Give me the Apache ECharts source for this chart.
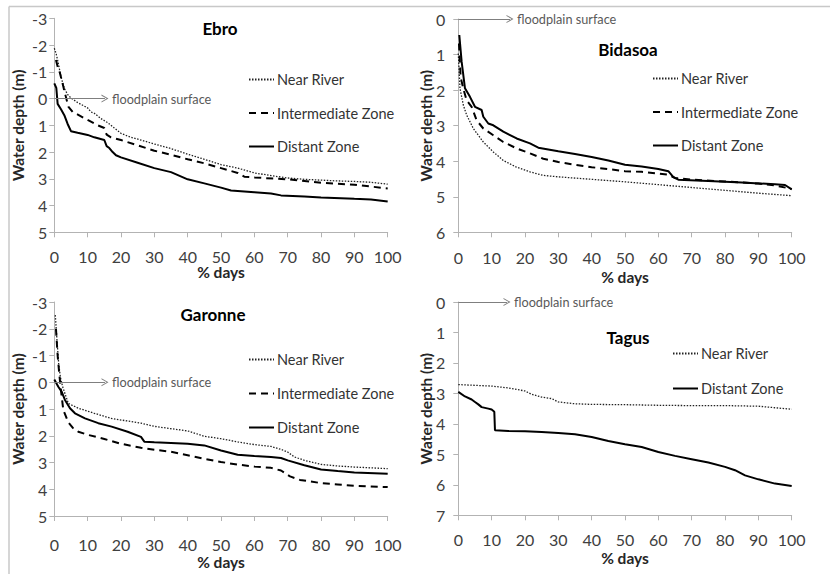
<!DOCTYPE html>
<html>
<head>
<meta charset="utf-8">
<script src="https://cdn.jsdelivr.net/npm/echarts@6/dist/echarts.min.js"></script>
<style>html,body{margin:0;padding:0;background:#fff;}#c{width:830px;height:574px;}</style>
</head>
<body>
<div id="c"></div>
<script>
// ---- data: [% days, water depth (m)] ----
const ebroNear = [[0,-1.88],[0.5,-1.7],[1,-1.44],[2,-0.82],[3,-0.38],[4,-0.15],[5,-0.02],[7,0.15],[10,0.35],[11,0.5],[12,0.55],[14,0.75],[16,0.9],[18,1.1],[20,1.3],[23,1.45],[26,1.55],[30,1.7],[35,1.87],[40,2.08],[45,2.27],[50,2.47],[55,2.6],[60,2.78],[65,2.88],[70,2.97],[75,3.02],[80,3.05],[85,3.08],[90,3.1],[95,3.13],[100,3.2]];
const ebroInter = [[0.5,-1.44],[1,-1.2],[1.7,-0.95],[2.7,-0.45],[3.4,-0.1],[4.2,0.3],[5.5,0.5],[7.2,0.61],[10,0.8],[13,1.0],[15,1.1],[15.7,1.35],[17,1.45],[20,1.55],[25,1.75],[30,1.95],[35,2.1],[40,2.27],[45,2.42],[50,2.6],[55,2.78],[57,2.92],[60,2.95],[70,3.02],[80,3.15],[90,3.22],[100,3.36]];
const ebroDist = [[0,-0.57],[0.6,-0.4],[1,0.2],[2,0.4],[3,0.62],[4,0.95],[5,1.22],[7,1.28],[10,1.36],[12,1.45],[15,1.55],[15.7,1.78],[16.5,1.85],[17.5,2.0],[18.5,2.12],[20,2.2],[25,2.4],[30,2.6],[35,2.75],[40,3.02],[45,3.17],[50,3.33],[53,3.44],[60,3.5],[65,3.55],[68,3.62],[75,3.66],[80,3.7],[90,3.75],[95,3.77],[100,3.85]];

const bidaNear = [[0,0.97],[0.5,1.95],[1.5,2.42],[2.5,2.7],[4.5,3.08],[7.5,3.46],[10.5,3.74],[13.5,3.98],[17.5,4.17],[21.5,4.3],[25.5,4.4],[30,4.44],[40,4.51],[50,4.58],[60,4.66],[70,4.74],[80,4.82],[90,4.9],[100,4.97]];
const bidaInter = [[0.2,0.69],[0.7,1.63],[1.5,1.96],[2.5,2.29],[4,2.47],[5.5,2.85],[7.5,3.08],[10.5,3.27],[13.5,3.46],[17.5,3.64],[21.5,3.78],[25.5,3.93],[30,4.02],[35,4.1],[40,4.17],[45,4.22],[50,4.28],[55,4.3],[60,4.35],[63,4.38],[65,4.47],[70,4.52],[80,4.57],[90,4.63],[95,4.68],[100,4.78]];
const bidaDist = [[0.3,0.45],[1,1.2],[2,1.95],[3.5,2.19],[5,2.47],[7,2.56],[7.5,2.75],[9,2.94],[10.5,2.99],[13.5,3.17],[17.5,3.36],[21.5,3.5],[24,3.62],[30,3.72],[35,3.8],[40,3.88],[45,3.98],[50,4.1],[55,4.15],[60,4.22],[63,4.28],[64.5,4.45],[66,4.52],[75,4.56],[85,4.6],[95,4.65],[98,4.67],[100,4.79]];

const garoNear = [[0.3,-2.51],[0.8,-1.58],[1.3,-0.71],[1.8,-0.21],[2.5,0.17],[4.2,0.79],[7.2,0.97],[12,1.16],[17,1.35],[26,1.53],[30,1.65],[40,1.82],[45,2.02],[50,2.11],[55,2.23],[60,2.33],[65,2.4],[68,2.51],[70,2.61],[72,2.79],[75,2.92],[80,3.07],[85,3.13],[90,3.17],[100,3.23]];
const garoInter = [[0.5,-2.0],[1,-1.0],[1.5,-0.3],[2,0.3],[2.7,1.04],[4.2,1.5],[5.5,1.7],[7.2,1.85],[10.2,1.97],[15,2.12],[20,2.3],[26,2.45],[30,2.52],[35,2.6],[40,2.73],[45,2.86],[50,2.98],[55,3.08],[60,3.15],[65,3.2],[68,3.3],[70.7,3.52],[73.7,3.65],[80,3.77],[85,3.82],[90,3.87],[100,3.92]];
const garoDist = [[0,-0.1],[1.2,0.17],[2.2,0.35],[3.2,0.66],[4.7,0.97],[6.2,1.16],[9.2,1.35],[13.2,1.53],[17.2,1.66],[22,1.85],[26,2.04],[27,2.22],[30,2.24],[40,2.3],[45,2.36],[50,2.55],[55,2.71],[60,2.76],[65,2.79],[68,2.83],[70,2.92],[75,3.1],[80,3.26],[85,3.32],[90,3.37],[100,3.42]];

const tagusNear = [[0,2.71],[10,2.76],[15,2.82],[20,2.92],[22,3.03],[25,3.12],[28,3.17],[30,3.28],[35,3.34],[40,3.36],[50,3.37],[60,3.39],[70,3.4],[80,3.4],[90,3.42],[95,3.47],[100,3.52]];
const tagusDist = [[0,2.95],[2,3.1],[4,3.2],[5,3.28],[6,3.36],[7,3.45],[9,3.5],[10,3.53],[10.8,3.6],[11,4.21],[15,4.23],[20,4.24],[25,4.27],[30,4.3],[35,4.34],[40,4.43],[45,4.56],[50,4.67],[55,4.76],[60,4.92],[65,5.05],[70,5.16],[75,5.27],[80,5.41],[83,5.52],[86,5.69],[90,5.82],[95,5.96],[100,6.04]];

const panelTitles = ['Ebro','Bidasoa','Garonne','Tagus'];
const yRanges = [[-3,5],[0,6],[-3,5],[0,7]];
const xTicks = [0,10,20,30,40,50,60,70,80,90,100];
const seriesNames = ['Near River','Intermediate Zone','Distant Zone'];
const floodLabel = 'floodplain surface';
const floodArrowEnd = [15.2,15.5,15.2,14.6];

const FONT = 'Lato, "Open Sans", sans-serif';
const grids = [
  {left:54.3, top:18.3, width:333.4, height:214},
  {left:458.3, top:19, width:333.4, height:213.3},
  {left:54.3, top:302, width:333.4, height:214},
  {left:458.3, top:302, width:333.4, height:213.3}
];
const yNameGap = [28,24,28,24];
const yLabelMargin = [7,13,7,13];
const xLabelMargin = [18.7,19.7,23,19];
const xNameGap = [33.5,38.7,40,36.5];
const axisCol = '#b3b3b3';

const xAxes = grids.map((g,i)=>({
  type:'value', gridIndex:i, min:0, max:100, interval:10,
  name:'% days', nameLocation:'middle', nameGap:xNameGap[i], nameMoveOverlap:false,
  nameTextStyle:{fontFamily:FONT, fontWeight:'bold', fontSize:15.5, lineHeight:12, color:'#262626'},
  axisLine:{show:true, onZero:false, lineStyle:{color:axisCol}},
  axisTick:{show:true, length:5, lineStyle:{color:axisCol}},
  axisLabel:{margin:xLabelMargin[i], fontFamily:FONT, fontSize:16, lineHeight:11, color:'#404040'},
  splitLine:{show:false}
}));
const yAxes = grids.map((g,i)=>({
  type:'value', gridIndex:i, inverse:true, min:yRanges[i][0], max:yRanges[i][1], interval:1,
  name:'Water depth (m)', nameLocation:'middle', nameGap:yNameGap[i], nameMoveOverlap:false,
  nameTextStyle:{fontFamily:FONT, fontWeight:'bold', fontSize:15.5, color:'#262626'},
  axisLine:{show:true, onZero:false, lineStyle:{color:axisCol}},
  axisTick:{show:true, length:5, lineStyle:{color:axisCol}},
  axisLabel:{margin:yLabelMargin[i], fontFamily:FONT, fontSize:16, color:'#404040'},
  splitLine:{show:false}
}));

const styles = {
  'Near River': {type:[1.5,1.5], width:1.3, color:'#222'},
  'Intermediate Zone': {type:[7,5], width:2, color:'#000'},
  'Distant Zone': {type:'solid', width:2, color:'#000'}
};
const chevron = 'path://M0,10 L5,0 L10,10 L8.6,10 L5,2.6 L1.4,10 Z';

function mk(name, data, idx, withMark){
  const s = {
    type:'line', name:name, data:data, xAxisIndex:idx, yAxisIndex:idx,
    symbol:'none', showSymbol:false, smooth:false, z:3,
    lineStyle:Object.assign({}, styles[name]), itemStyle:{color:styles[name].color},
    emphasis:{disabled:true}
  };
  if(withMark){
    s.markLine = {
      silent:true, symbol:['none', chevron], symbolSize:[8,7], animation:false,
      lineStyle:{color:'#7f7f7f', width:1, type:'solid'},
      itemStyle:{color:'#7f7f7f'},
      label:{show:true, position:'end', distance:7, formatter:floodLabel, fontFamily:FONT, fontSize:12.7, color:'#595959'},
      emphasis:{disabled:true},
      data:[[{coord:[0,0]},{coord:[floodArrowEnd[idx],0]}]]
    };
  }
  return s;
}

const series = [
  mk('Near River', ebroNear, 0, true), mk('Intermediate Zone', ebroInter, 0), mk('Distant Zone', ebroDist, 0),
  mk('Near River', bidaNear, 1, true), mk('Intermediate Zone', bidaInter, 1), mk('Distant Zone', bidaDist, 1),
  mk('Near River', garoNear, 2, true), mk('Intermediate Zone', garoInter, 2), mk('Distant Zone', garoDist, 2),
  mk('Near River', tagusNear, 3, true), mk('Distant Zone', tagusDist, 3)
];
series.forEach((s,i)=>{ s.id = 's'+i; });

const legendPos = [
  {left:248, top:72, gap:18.5, names:seriesNames},
  {left:652, top:71, gap:18.5, names:seriesNames},
  {left:248, top:352, gap:19, names:seriesNames},
  {left:672, top:346, gap:20, names:['Near River','Distant Zone']}
];
const legends = legendPos.map(p=>({
  orient:'vertical', left:p.left, top:p.top, itemGap:p.gap, itemWidth:25, itemHeight:14,
  data:p.names, selectedMode:false, padding:0,
  textStyle:{fontFamily:FONT, fontSize:14.5, color:'#333', padding:[0,0,0,-2]},
  itemStyle:{opacity:0}
}));

const titlePos = [[220,28],[628,49],[213,314],[628,337]];
const graphic = [
  {type:'line', shape:{x1:9, y1:6.5, x2:830, y2:6.5}, style:{stroke:'#c8c8c8', lineWidth:1.5}, silent:true},
  {type:'line', shape:{x1:9, y1:6.5, x2:9, y2:574}, style:{stroke:'#c8c8c8', lineWidth:1.5}, silent:true}
].concat(panelTitles.map((t,i)=>({
  type:'text', x:titlePos[i][0], y:titlePos[i][1], silent:true,
  style:{text:t, textAlign:'center', textVerticalAlign:'middle', fontFamily:FONT, fontWeight:'bold', fontSize:17, fill:'#000'}
})));

const chart = echarts.init(document.getElementById('c'), null, {renderer:'svg'});
chart.setOption({
  animation:false,
  backgroundColor:'#fff',
  grid:grids.map(g=>Object.assign({containLabel:false}, g)),
  xAxis:xAxes, yAxis:yAxes, legend:legends, series:series, graphic:graphic
});
</script>
</body>
</html>
